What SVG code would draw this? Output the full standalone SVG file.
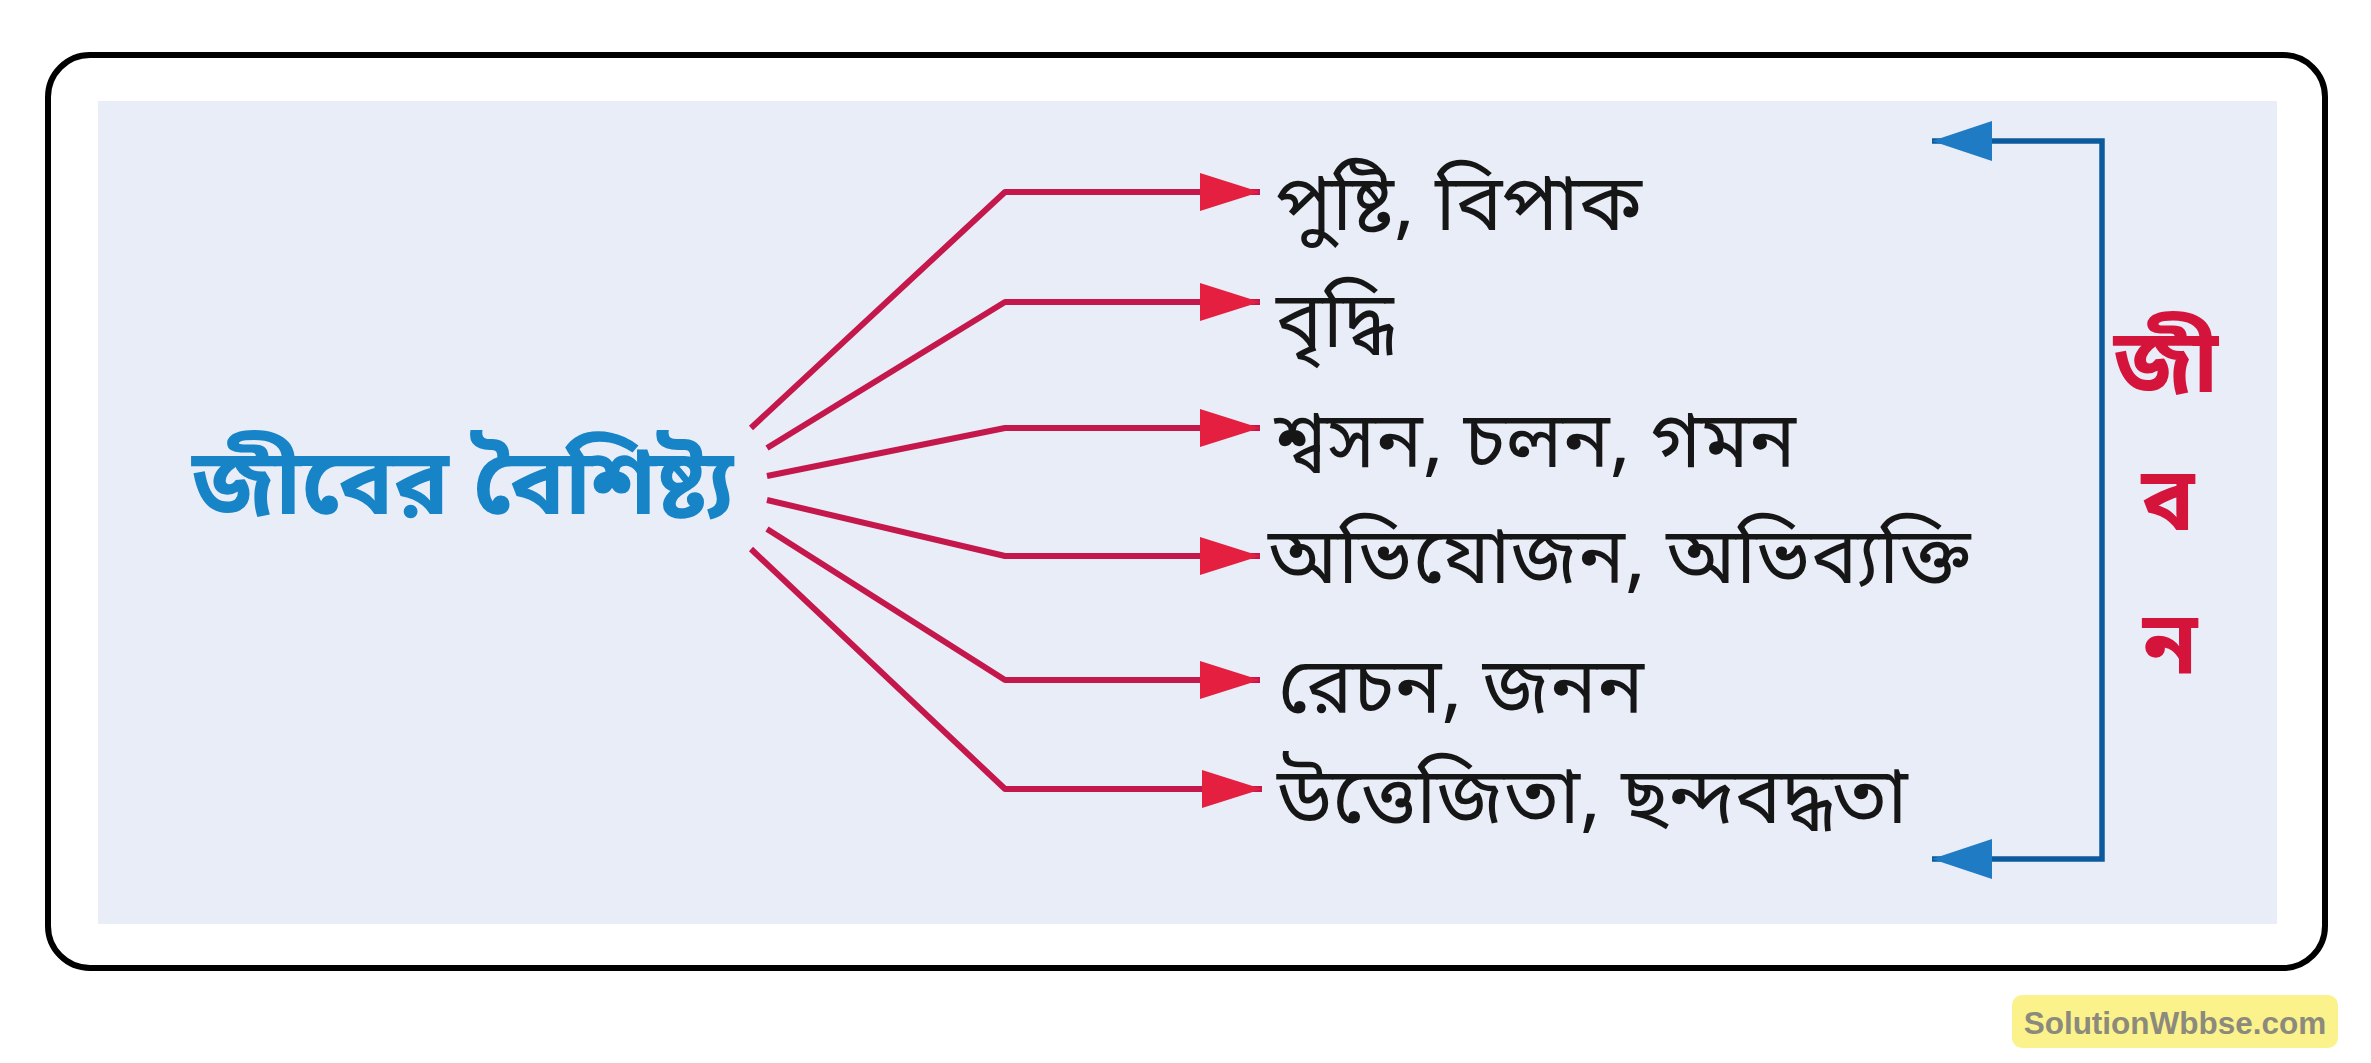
<svg xmlns="http://www.w3.org/2000/svg" width="2371" height="1063" viewBox="0 0 2371 1063">
<style>
.bn{font-family:"Noto Sans Bengali","Noto Serif Bengali","Lohit Bengali","Noto Sans",sans-serif;}
.item{font-size:78px;fill:#161616;}
.title{font-size:92px;fill:#1684c6;font-weight:bold;}
.side{font-size:88px;fill:#d5143c;font-weight:bold;text-anchor:middle;}
.red{fill:none;stroke:#c4184c;stroke-width:6;stroke-linejoin:round;marker-end:url(#ra);}
.blue{fill:none;stroke:#0c5a9e;stroke-width:5.5;marker-start:url(#ba);marker-end:url(#ba);}
</style>
<defs>
<marker id="ra" viewBox="0 0 60 38" refX="60" refY="19" markerWidth="60" markerHeight="38" markerUnits="userSpaceOnUse" orient="auto">
<path d="M0,0 L60,19 L0,38 Z" fill="#e41f3f"/>
</marker>
<marker id="ba" viewBox="0 0 60 40" refX="60" refY="20" markerWidth="60" markerHeight="40" markerUnits="userSpaceOnUse" orient="auto-start-reverse">
<path d="M0,0 L60,20 L0,40 Z" fill="#1f7cc4"/>
</marker>
</defs>
<rect x="0" y="0" width="2371" height="1063" fill="#ffffff"/>
<rect x="48" y="55" width="2277" height="913" rx="42" fill="#ffffff" stroke="#000000" stroke-width="6"/>
<rect x="98" y="101" width="2179" height="823" fill="#e8edf8"/>
<g id="connectors">
<path class="red" d="M751,428 L1005,192 L1260,192"/>
<path class="red" d="M767,448 L1005,302 L1260,302"/>
<path class="red" d="M767,476 L1005,428 L1260,428"/>
<path class="red" d="M767,500 L1005,556 L1260,556"/>
<path class="red" d="M767,529 L1005,680 L1260,680"/>
<path class="red" d="M751,549 L1005,789 L1262,789"/>
<path class="blue" d="M1932,141 L2102,141 L2102,859 L1932,859"/>
</g>
<g id="node-title"><text class="bn title" x="192" y="514">জীবের বৈশিষ্ট্য</text></g>
<g id="node-1"><text class="bn item" x="1276" y="230">পুষ্টি, বিপাক</text></g>
<g id="node-2"><text class="bn item" x="1276" y="347">বৃদ্ধি</text></g>
<g id="node-3"><text class="bn item" x="1274" y="467">শ্বসন, চলন, গমন</text></g>
<g id="node-4"><text class="bn item" x="1268" y="583">অভিযোজন, অভিব্যক্তি</text></g>
<g id="node-5"><text class="bn item" x="1278" y="713">রেচন, জনন</text></g>
<g id="node-6"><text class="bn item" x="1277" y="823">উত্তেজিতা, ছন্দবদ্ধতা</text></g>
<g id="node-side">
<text class="bn side" x="2166" y="392">জী</text>
<text class="bn side" x="2168" y="530">ব</text>
<text class="bn side" x="2170" y="674">ন</text>
</g>
<g id="watermark">
<rect x="2012" y="995" width="326" height="53" rx="10" fill="#fbf28c"/>
<text x="2175" y="1034" font-family="Liberation Sans, sans-serif" font-size="31.5" font-weight="bold" fill="#8c8a7c" text-anchor="middle">SolutionWbbse.com</text>
</g>
</svg>
